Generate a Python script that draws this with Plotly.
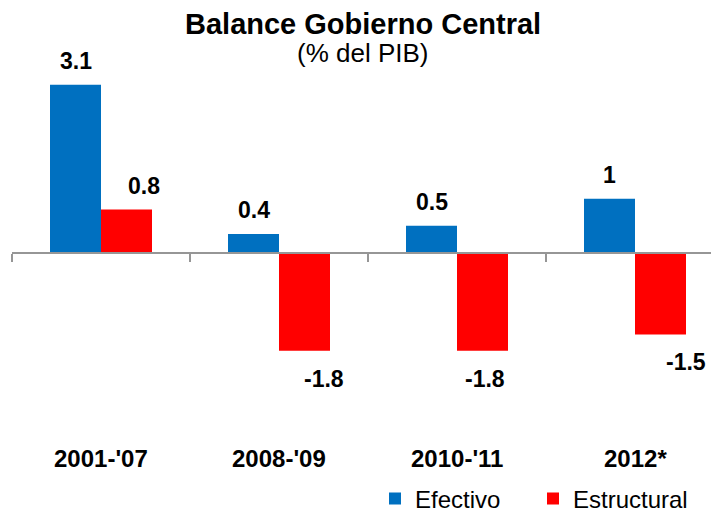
import plotly.graph_objects as go

categories = ["2001-'07", "2008-'09", "2010-'11", "2012*"]
efectivo = [3.1, 0.35, 0.5, 1.0]
estructural = [0.8, -1.8, -1.8, -1.5]
efectivo_labels = ["3.1", "0.4", "0.5", "1"]
estructural_labels = ["0.8", "-1.8", "-1.8", "-1.5"]

# style: label nudges (pixels)
efectivo_dx = [0, 0, 0, 0]
estructural_dx = [17, 19, 2, 25]

BLUE = "#0070C0"
RED = "#FF0000"
FONT = "Liberation Sans, Arial, sans-serif"

OFF = 8  # page body margin
W, H = 719 - OFF, 512 - OFF
ML, MR, MT, MB = 12 - OFF, 0, 70 - OFF, 72
PLOT_H = H - MT - MB
PLOT_W = W - ML - MR
PX_PER_UNIT = 54.3
ZERO_PX = 253 - OFF
y_top = (ZERO_PX - MT) / PX_PER_UNIT
y_bot = -(H - MB - ZERO_PX) / PX_PER_UNIT
axis_pos = (0 - y_bot) / (y_top - y_bot)


def py(p):
    """image pixel row -> paper y"""
    return (H - MB - (p - OFF)) / PLOT_H


def px(p):
    """image pixel column -> paper x"""
    return (p - OFF - ML) / PLOT_W


bargap = 0.427
bar_w = (1 - bargap) / 2

fig = go.Figure()
fig.add_trace(go.Bar(x=categories, y=efectivo, name="Efectivo",
                     marker=dict(color=BLUE, line=dict(width=0))))
fig.add_trace(go.Bar(x=categories, y=estructural, name="Estructural",
                     marker=dict(color=RED, line=dict(width=0))))

LBL = dict(size=23, color="black", family=FONT)
annotations = []
for i, (v, lab, dx) in enumerate(zip(efectivo, efectivo_labels, efectivo_dx)):
    annotations.append(dict(x=i - bar_w / 2, y=v, xref="x", yref="y", text=f"<b>{lab}</b>",
                            showarrow=False, xshift=dx, yshift=24 if v >= 0 else -28,
                            yanchor="middle", font=LBL))
for i, (v, lab, dx) in enumerate(zip(estructural, estructural_labels, estructural_dx)):
    annotations.append(dict(x=i + bar_w / 2, y=v, xref="x", yref="y", text=f"<b>{lab}</b>",
                            showarrow=False, xshift=dx, yshift=24 if v >= 0 else -28,
                            yanchor="middle", font=LBL))
for i, c in enumerate(categories):
    annotations.append(dict(x=i, y=py(459), xref="x", yref="paper",
                            text=f"<b>{c}</b>", showarrow=False, yanchor="middle",
                            font=dict(size=24, color="black", family=FONT)))
annotations.append(dict(x=px(363), y=py(24), xref="paper", yref="paper",
                        text="<b>Balance Gobierno Central</b>", showarrow=False, yanchor="middle",
                        font=dict(size=29, color="black", family=FONT)))
annotations.append(dict(x=px(363), y=py(53), xref="paper", yref="paper",
                        text="(% del PIB)", showarrow=False, yanchor="middle",
                        font=dict(size=26, color="black", family=FONT)))

fig.update_layout(
    width=W, height=H,
    margin=dict(l=ML, r=MR, t=MT, b=MB, pad=0, autoexpand=False),
    paper_bgcolor="white", plot_bgcolor="white",
    barmode="group", bargap=bargap, bargroupgap=0,
    showlegend=True,
    legend=dict(orientation="h", x=px(375), xanchor="left",
                y=py(499), yanchor="middle",
                font=dict(size=24, color="black", family=FONT),
                entrywidth=113, itemwidth=30, bgcolor="rgba(0,0,0,0)"),
    xaxis=dict(type="category", range=[-0.5, -0.5 + PLOT_W / 178.0],
               showline=True, linecolor="#969696", linewidth=1.5,
               ticks="outside", tickson="boundaries", ticklen=8, tickcolor="#969696", tickwidth=1.5,
               showticklabels=False, showgrid=False, zeroline=False,
               anchor="free", position=axis_pos),
    yaxis=dict(range=[y_bot, y_top], visible=False, showgrid=False, zeroline=False),
    annotations=annotations,
    font=dict(family=FONT),
)

fig.write_html("out.html")
